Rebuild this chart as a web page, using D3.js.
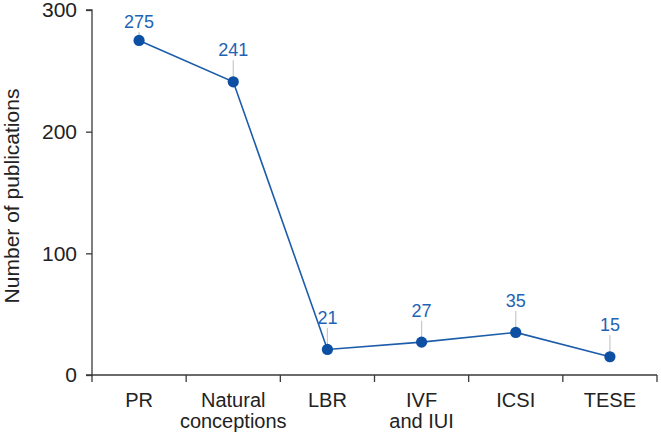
<!DOCTYPE html>
<html><head><meta charset="utf-8">
<script src="https://cdn.jsdelivr.net/npm/d3@7"></script>
<style>body{margin:0;background:#fff}svg{display:block}</style>
</head><body><svg id="c" width="661" height="436"></svg>
<script>
const categories = ["PR", "Natural\nconceptions", "LBR", "IVF\nand IUI", "ICSI", "TESE"];
const values = [275, 241, 21, 27, 35, 15];
const yTicks = [0, 100, 200, 300];
const yTitle = "Number of publications";

(function() {
const svg = d3.select("#c");
const font = "Liberation Sans, Arial, Helvetica, sans-serif";
const mLeft = 92, mRight = 657, mTop = 10, mBottom = 375;
const x = d3.scaleBand().domain(categories).range([mLeft, mRight]).padding(0);
const y = d3.scaleLinear().domain([0, 300]).range([mBottom, mTop]);
const axisColor = "#3a3a3a";
const blue = "#0d4fa3";

// y axis
const ya = svg.append("g").attr("transform", `translate(${mLeft},0)`)
  .call(d3.axisLeft(y).tickValues(yTicks).tickSize(6).tickPadding(9).tickFormat(d3.format("d")));
ya.select(".domain").attr("stroke", axisColor).attr("stroke-width", 1.3).attr("d", `M-6,${mTop}H0V${mBottom}H-6`);
ya.selectAll(".tick line").attr("stroke", axisColor).attr("stroke-width", 1.3);
ya.selectAll(".tick text").attr("fill", "#222").style("font-family", font).style("font-size", "21px");

// x axis
const xa = svg.append("g").attr("transform", `translate(0,${mBottom})`)
  .call(d3.axisBottom(x).tickSize(0).tickPadding(0));
xa.select(".domain").attr("stroke", axisColor).attr("stroke-width", 1.3).attr("d", `M${mLeft},0H${mRight}`);
xa.selectAll(".tick text").remove();
const bounds = categories.map(c => x(c)).concat([mRight]);
xa.selectAll("line.bt").data(bounds).enter().append("line").attr("class", "bt")
  .attr("x1", d => d).attr("x2", d => d).attr("y1", 0).attr("y2", 7)
  .attr("stroke", axisColor).attr("stroke-width", 1.3);
const labs = xa.selectAll("text.cl").data(categories).enter().append("text").attr("class", "cl")
  .attr("text-anchor", "middle").attr("fill", "#222")
  .style("font-family", font).style("font-size", "20px");
labs.each(function(d) {
  const t = d3.select(this);
  d.split("\n").forEach((s, i) => {
    t.append("tspan").attr("x", x(d) + x.bandwidth() / 2).attr("y", 32 + i * 20.5).text(s);
  });
});

// y title
svg.append("text").attr("transform", `translate(18.5,196) rotate(-90)`)
  .attr("text-anchor", "middle").attr("fill", "#222")
  .style("font-family", font).style("font-size", "21px").text(yTitle);

const cx = (d, i) => x(categories[i]) + x.bandwidth() / 2;
const data = values.map((v, i) => ({c: categories[i], v, i}));

// leader lines
const labelOffset = d => d.i === 0 ? 12.5 : 25.5;
svg.selectAll("line.ld").data(data).enter().append("line")
  .attr("x1", d => cx(d, d.i)).attr("x2", d => cx(d, d.i))
  .attr("y1", d => y(d.v)).attr("y2", d => y(d.v) - labelOffset(d) + 4)
  .attr("stroke", "#c8c8c8").attr("stroke-width", 1.2);

// line
svg.append("path").datum(data)
  .attr("d", d3.line().x(d => cx(d, d.i)).y(d => y(d.v)))
  .attr("fill", "none").attr("stroke", "#1c5dab").attr("stroke-width", 1.6);

// markers
svg.selectAll("circle.pt").data(data).enter().append("circle")
  .attr("cx", d => cx(d, d.i)).attr("cy", d => y(d.v)).attr("r", 5.6).attr("fill", blue);

// value labels
svg.selectAll("text.vl").data(data).enter().append("text")
  .attr("x", d => cx(d, d.i)).attr("y", d => y(d.v) - labelOffset(d))
  .attr("text-anchor", "middle").attr("fill", "#1e63b4")
  .style("font-family", font).style("font-size", "18px").text(d => d.v);
})();
</script></body></html>
